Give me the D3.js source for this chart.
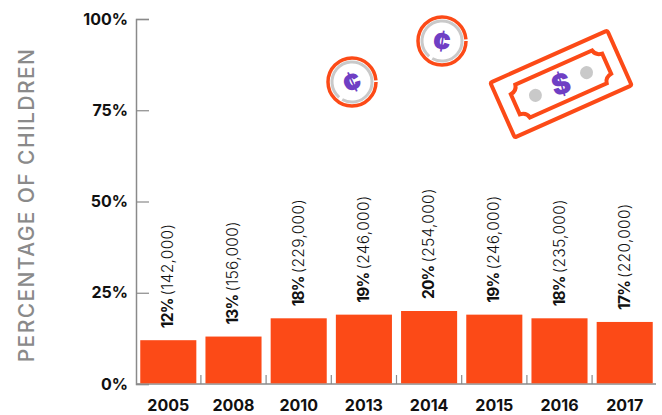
<!DOCTYPE html>
<html>
<head>
<meta charset="utf-8">
<script src="https://cdnjs.cloudflare.com/ajax/libs/d3/7.8.5/d3.min.js"></script>
<style>
  body { margin: 0; background: #fff; }
  text { font-family: Inter, "Open Sans", sans-serif; }
</style>
</head>
<body>
<div id="plot"></div>
<script>
var years = ["2005", "2008", "2010", "2013", "2014", "2015", "2016", "2017"];
var percents = [12, 13, 18, 19, 20, 19, 18, 17];
var counts = ["142,000", "156,000", "229,000", "246,000", "254,000", "246,000", "235,000", "220,000"];
var yTicks = [0, 25, 50, 75, 100];

var width = 662, height = 415;
var red = "#fc4a17", grey = "#8a8a8a", purple = "#6f3fc4", silver = "#c9c9c9";

var svg = d3.select("#plot").append("svg")
    .attr("width", width)
    .attr("height", height)
    .style("display", "block");

var xScale = d3.scaleBand()
    .domain(years)
    .range([137, 656])
    .paddingInner(0.14)
    .paddingOuter(0.05);
var yScale = d3.scaleLinear()
    .domain([0, 100])
    .range([384, 19]);

// y axis
var yAxis = svg.append("g")
    .attr("transform", "translate(136,0)")
    .call(d3.axisRight(yScale).tickValues(yTicks).tickSize(13).tickFormat(""));
yAxis.select(".domain").attr("stroke", grey).attr("stroke-width", 1.5);
yAxis.selectAll("line").attr("stroke", grey).attr("stroke-width", 1.2);

svg.selectAll(".ylabel")
    .data(yTicks)
    .join("text")
    .attr("class", "ylabel")
    .attr("x", 128)
    .attr("y", d => yScale(d) + 5.5)
    .attr("text-anchor", "end")
    .attr("font-size", 16)
    .attr("font-weight", 700)
    .attr("fill", "#111")
    .text(d => d + "%");

svg.append("text")
    .attr("transform", "translate(34,205) rotate(-90)")
    .attr("text-anchor", "middle")
    .attr("font-size", 21)
    .attr("font-weight", 500)
    .attr("letter-spacing", 1.4)
    .attr("fill", grey)
    .text("PERCENTAGE OF CHILDREN");

// baseline and the short ticks between bars
svg.append("line")
    .attr("x1", 136).attr("x2", 656)
    .attr("y1", yScale(0)).attr("y2", yScale(0))
    .attr("stroke", grey).attr("stroke-width", 1.5);
svg.selectAll(".sep")
    .data(years.slice(1))
    .join("line")
    .attr("class", "sep")
    .attr("x1", d => xScale(d) - xScale.step() * 0.07)
    .attr("x2", d => xScale(d) - xScale.step() * 0.07)
    .attr("y1", yScale(0))
    .attr("y2", yScale(0) - 9)
    .attr("stroke", grey).attr("stroke-width", 1.2);

// bars
svg.selectAll(".bar")
    .data(years)
    .join("rect")
    .attr("class", "bar")
    .attr("x", d => xScale(d))
    .attr("y", (d, i) => yScale(percents[i]))
    .attr("width", xScale.bandwidth())
    .attr("height", (d, i) => yScale(0) - yScale(percents[i]) - 0.7)
    .attr("fill", red);

svg.selectAll(".xlabel")
    .data(years)
    .join("text")
    .attr("class", "xlabel")
    .attr("x", d => xScale(d) + xScale.bandwidth() / 2)
    .attr("y", 411)
    .attr("text-anchor", "middle")
    .attr("font-size", 16)
    .attr("font-weight", 700)
    .attr("fill", "#111")
    .text(d => d);

// rotated value labels
var labels = svg.selectAll(".value")
    .data(years)
    .join("text")
    .attr("class", "value")
    .attr("transform", (d, i) => "translate(" + (xScale(d) + xScale.bandwidth() / 2 + 5) + "," + (yScale(percents[i]) - 12) + ") rotate(-90)")
    .attr("font-size", 15.5)
    .attr("fill", "#111");
labels.append("tspan").attr("font-weight", 700).attr("letter-spacing", -0.8).text((d, i) => percents[i] + "%");
labels.append("tspan").attr("font-weight", 300).attr("dx", 3).attr("letter-spacing", 0.3).text((d, i) => "(" + counts[i] + ")");

// decorations
function coin(cx, cy, angle) {
  var g = svg.append("g").attr("transform", "translate(" + cx + "," + cy + ")");
  g.append("circle").attr("r", 24).attr("fill", "none").attr("stroke", red).attr("stroke-width", 3.5)
    .attr("stroke-dasharray", "148 3");
  g.append("circle").attr("r", 20).attr("fill", "none").attr("stroke", silver).attr("stroke-width", 3)
    .attr("stroke-dasharray", "121 4.7")
    .attr("transform", "rotate(130)");
  g.append("text")
    .attr("transform", "rotate(" + angle + ")")
    .attr("y", 10.5)
    .attr("text-anchor", "middle")
    .attr("font-size", 29)
    .attr("font-weight", 900)
    .attr("fill", purple)
    .text("¢");
}
coin(352, 82, -25);
coin(442, 41, 8);

var bill = svg.append("g").attr("transform", "translate(561,84) rotate(-24)");
bill.append("rect")
    .attr("x", -64).attr("y", -30).attr("width", 128).attr("height", 60).attr("rx", 2)
    .attr("fill", "none").attr("stroke", red).attr("stroke-width", 4);
bill.append("path")
    .attr("d", "M-42,-18 H42 Q43,-12 50,-11 V11 Q43,12 42,18 H-42 Q-43,12 -50,11 V-11 Q-43,-12 -42,-18 Z")
    .attr("fill", "none").attr("stroke", red).attr("stroke-width", 4);
bill.selectAll("circle")
    .data([-28, 28])
    .join("circle")
    .attr("cx", d => d)
    .attr("r", 6.5)
    .attr("fill", silver);
bill.append("text")
    .attr("y", 10)
    .attr("text-anchor", "middle")
    .attr("font-size", 28)
    .attr("font-weight", 900)
    .attr("fill", purple)
    .attr("transform", "rotate(8)")
    .text("$");
</script>
</body>
</html>
